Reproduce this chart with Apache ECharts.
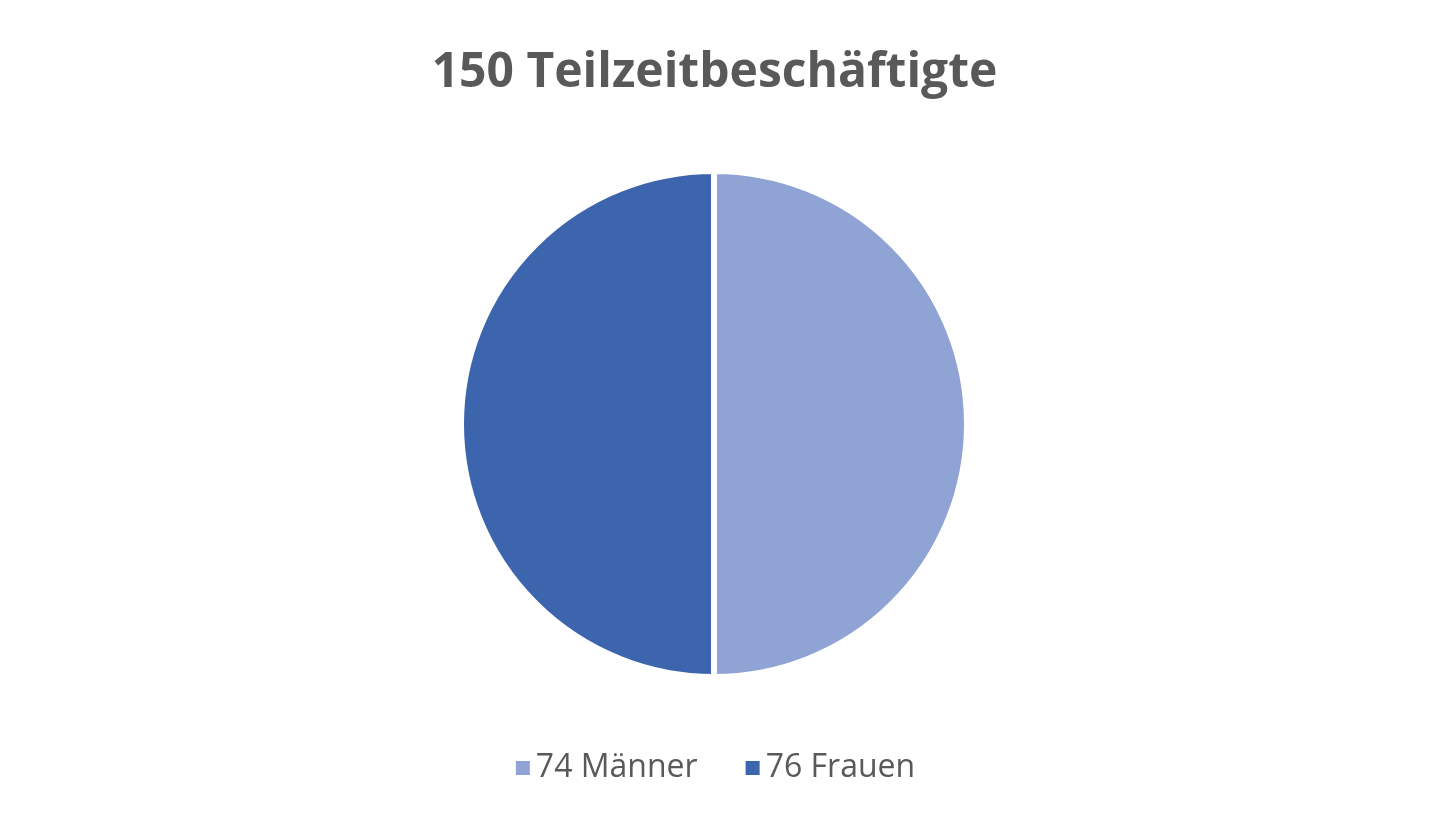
<!DOCTYPE html>
<html>
<head>
<meta charset="utf-8">
<script src="https://cdn.jsdelivr.net/npm/echarts@6/dist/echarts.min.js"></script>
<style>html,body{margin:0;padding:0;background:#fff}#chart{width:1429px;height:833px}</style>
</head>
<body>
<div id="chart"></div>
<script>
var titleText = '150 Teilzeitbeschäftigte';
var categories = ['74 Männer', '76 Frauen'];
var values = [50, 50]; // slice shares as drawn (half / half)
var colors = ['#8FA3D4', '#3C65AD'];

var chart = echarts.init(document.getElementById('chart'));
chart.setOption({
  animation: false,
  title: {
    text: titleText, left: 'center', top: 44,
    textStyle: { fontFamily: 'Open Sans', fontWeight: 'bold', fontSize: 48, color: '#595959' }
  },
  legend: {
    bottom: 44, left: 'center', itemWidth: 16, itemHeight: 16, itemGap: 46,
    icon: 'rect',
    textStyle: { fontFamily: 'Open Sans', fontSize: 32, color: '#595959' },
    data: categories
  },
  series: [{
    type: 'pie',
    center: [714, 424],
    radius: [0, 253],
    startAngle: 90,
    clockwise: true,
    label: { show: false },
    labelLine: { show: false },
    itemStyle: { borderColor: '#fff', borderWidth: 6 },
    data: categories.map(function (c, i) {
      return { name: c, value: values[i], itemStyle: { color: colors[i] } };
    })
  }]
});
</script>
</body>
</html>
